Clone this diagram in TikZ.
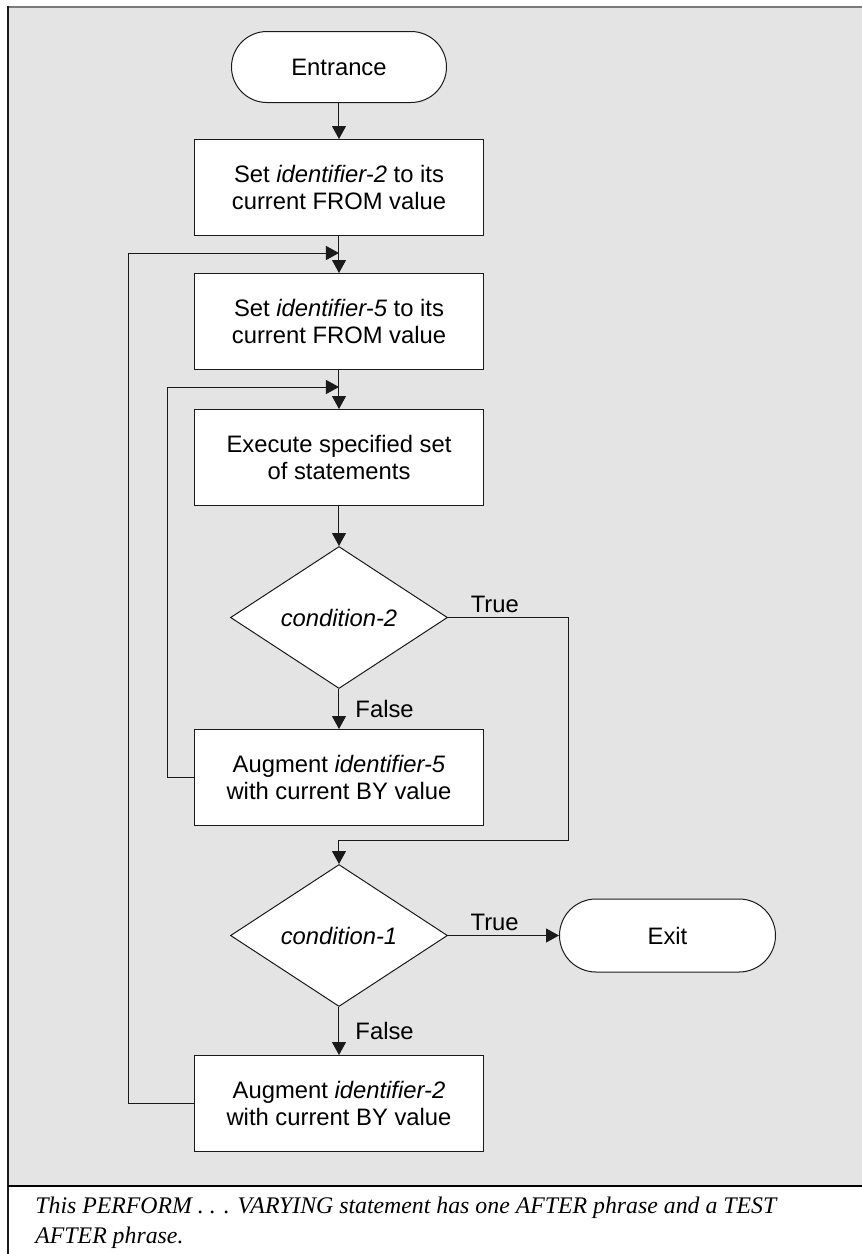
\documentclass[tikz,border=0pt]{standalone}
\usepackage{fontspec}
\setmainfont{Liberation Sans}
\newfontfamily\capfont{Liberation Serif}
\usetikzlibrary{arrows.meta,positioning,shapes.geometric}
\definecolor{panel}{HTML}{E4E4E4}
\definecolor{rim}{HTML}{7A7A7A}
\definecolor{ink}{HTML}{1A1A1A}
\tikzset{
  >={Triangle[length=6.5pt,width=7pt]},
  every node/.style={font=\fontsize{11.9}{13.3}\selectfont,text=black},
  box/.style={draw=ink,line width=0.5pt,fill=white,align=center,minimum width=144pt,minimum height=48pt,inner sep=2pt},
  termbox/.style={box,rounded corners=17.75pt,minimum width=107.5pt,minimum height=35.5pt},
  decision/.style={diamond,draw=ink,line width=0.5pt,fill=white,aspect=1.53,minimum width=108.5pt,minimum height=71pt,inner sep=0pt,font=\fontsize{11.9}{13.3}\selectfont\itshape},
  arrow/.style={->,draw=ink,line width=0.5pt},
  lbl/.style={inner sep=2pt},
}
\begin{document}
\begin{tikzpicture}[node distance=19pt]

% panel and caption frame
\useasboundingbox (-169.5pt,33.5pt) rectangle (261.5pt,-593.5pt);
\fill[panel] (-165.5pt,30pt) rectangle (261.5pt,-559.5pt);
\draw[rim,line width=1pt] (-165.5pt,30pt) -- (261.5pt,30pt);
\draw[ink,line width=0.6pt] (-165.5pt,30.5pt) -- (-165.5pt,-593.5pt);
\draw[black,line width=0.8pt] (-165.5pt,-559.5pt) -- (261.5pt,-559.5pt);

\node[termbox] (entry) at (0,0) {Entrance};
\node[box,below=18pt of entry] (set2) {Set \textit{identifier-2} to its\\current FROM value};
\node[box,below=18.5pt of set2] (set5) {Set \textit{identifier-5} to its\\current FROM value};
\node[box,below=19.5pt of set5] (exec) {Execute specified set\\of statements};
\node[decision,below=20pt of exec] (cond2) {condition-2};
\node[box,below=20pt of cond2] (aug5) {Augment \textit{identifier-5}\\with current BY value};
\node[decision,below=19pt of aug5] (cond1) {condition-1};
\node[box,below=24pt of cond1] (aug2) {Augment \textit{identifier-2}\\with current BY value};
\node[termbox,minimum width=108pt,minimum height=36.5pt,rounded corners=18.25pt,right=55.5pt of cond1] (exit) {Exit};

\coordinate[below=8.5pt of set2] (j2);
\coordinate[below=8.5pt of set5] (j5);
\coordinate[below=7pt of aug5] (j1);

\draw[arrow] (entry) -- (set2);
\draw[arrow] (set2) -- (set5);
\draw[arrow] (set5) -- (exec);
\draw[arrow] (exec) -- (cond2);
\draw[arrow] (cond2) -- node[lbl,right=6pt]{False} (aug5);
\draw[arrow] (cond2.east) -- node[lbl,above,pos=0.39]{True} ++(60pt,0) |- (j1) -- (cond1.north);
\draw[arrow] (aug5.west) -- ++(-13.5pt,0) |- (j5);
\draw[arrow] (cond1) -- node[lbl,above,pos=0.42]{True} (exit);
\draw[arrow] (cond1) -- node[lbl,right=6pt]{False} (aug2);
\draw[arrow] (aug2.west) -- ++(-33pt,0) |- (j2);

\node[anchor=north west,inner sep=0pt,align=left,font=\capfont\itshape\fontsize{11.9}{15}\selectfont] (note) at (-152pt,-565pt) {This PERFORM . . . VARYING statement has one AFTER phrase and a TEST\\AFTER phrase.};

\end{tikzpicture}
\end{document}
